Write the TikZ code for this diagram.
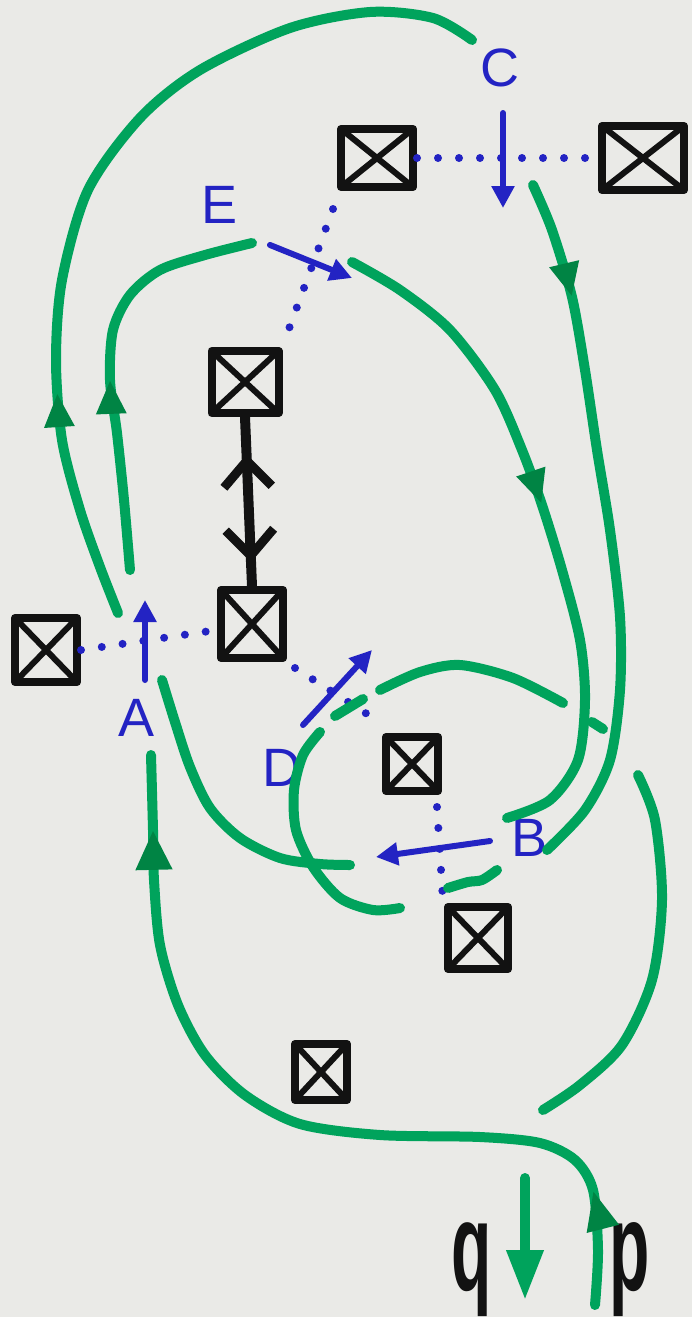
\documentclass[tikz,border=0pt]{standalone}
\usepackage{fontspec}
\setmainfont{Liberation Sans}
\usetikzlibrary{arrows.meta,decorations.markings,calc}
\definecolor{paper}{RGB}{234,234,231}
\definecolor{mgreen}{RGB}{0,163,92}
\definecolor{dgreen}{RGB}{0,132,68}
\definecolor{mblue}{RGB}{35,35,195}
\definecolor{ink}{RGB}{18,18,18}
\tikzset{
  xbox/.style={draw=ink, line width=8pt, inner sep=0pt, line join=round,
    path picture={\draw[ink, line width=6pt, line cap=round]
      (path picture bounding box.north west) -- (path picture bounding box.south east)
      (path picture bounding box.south west) -- (path picture bounding box.north east);}},
  gline/.style={draw=mgreen, line width=10pt, line cap=round, line join=round},
  garrow/.style={postaction={decorate, decoration={markings,
    mark=at position #1 with {\arrow[dgreen]{Triangle[length=34pt,width=28pt]}}}}},
  barrow/.style={draw=mblue, line width=6pt, line cap=round, -{Triangle[length=22pt,width=22pt]}},
  dots/.style={draw=mblue, line width=8pt, line cap=round, dash pattern=on 0pt off 21pt},
  lab/.style={text=mblue, font=\fontsize{54}{54}\selectfont, inner sep=0pt},
  letter/.style={text=ink, font=\fontsize{120}{120}\selectfont\bfseries, inner sep=0pt}
}
\begin{document}
\begin{tikzpicture}[x=1pt,y=-1pt]
\fill[paper] (0,0) rectangle (692,1317);
\useasboundingbox (0,0) rectangle (692,1317);

% boxes
\node[xbox, minimum width=72pt, minimum height=58pt] (b1) at (377,158) {};
\node[xbox, minimum width=82pt, minimum height=64pt] (b2) at (643,158) {};
\node[xbox, minimum width=67pt, minimum height=62pt] (b3) at (245,382) {};
\node[xbox, minimum width=62pt, minimum height=68pt] (b4) at (252,624) {};
\node[xbox, minimum width=62pt, minimum height=64pt] (b5) at (46,650) {};
\node[xbox, minimum width=52pt, minimum height=54pt] (b6) at (412,764) {};
\node[xbox, minimum width=60pt, minimum height=62pt] (b7) at (478,938) {};
\node[xbox, minimum width=52pt, minimum height=56pt] (b8) at (321,1072) {};

% labels
\node[lab] (lC) at (500,68) {C};
\node[lab] (lE) at (220,205) {E};
\node[lab] (lA) at (137,718) {A};
\node[lab] (lD) at (282,768) {D};
\node[lab] (lB) at (530,838) {B};
\node[letter, anchor=south] (lq) at (472,1317) {\scalebox{0.55}[1.05]{q}};
\node[letter, anchor=south] (lp) at (630,1317) {\scalebox{0.55}[1.05]{p}};

% dotted links
\draw[dots] (b1.east) -- (b2.west);
\draw[dots] ($(b1.south west)+(-4,18)$) -- ($(b3.north east)+(2,-6)$);
\draw[dots] (b5.east) -- ([yshift=-6pt]b4.west);
\draw[dots] ($(b4.south east)+(8,6)$) -- ($(b6.north west)+(-4,-12)$);
\draw[dots] ($(b6.south)+(25,12)$) -- ($(b7.north)+(-35,-2)$);

% black double arrow
\draw[ink, line width=10pt, line cap=round,
  postaction={decorate, decoration={markings,
    mark=at position 0.22 with {\arrowreversed[ink]{Straight Barb[length=26pt,width=48pt,line width=9pt]}},
    mark=at position 0.86 with {\arrow[ink]{Straight Barb[length=26pt,width=48pt,line width=9pt]}}}}]
  (b3.south) -- (b4.north);

% blue arrows
\coordinate (c1) at (503,113); \coordinate (c2) at (503,208);
\coordinate (e1) at (270,245); \coordinate (e2) at (352,278);
\coordinate (a1) at (145,680); \coordinate (a2) at (145,600);
\coordinate (d1) at (303,725); \coordinate (d2) at (372,650);
\coordinate (bb1) at (490,841); \coordinate (bb2) at (376,857);
\draw[barrow] (c1) -- (c2);
\draw[barrow] (e1) -- (e2);
\draw[barrow] (a1) -- (a2);
\draw[barrow] (d1) -- (d2);
\draw[barrow] (bb1) -- (bb2);

% green curves
\draw[gline, garrow=0.257] plot[smooth] coordinates {(118,613) (100,567) (80,510) (62,440) (56,360) (62,280) (88,190) (140,118) (200,70) (290,28) (370,12) (433,18) (472,40)};
\draw[gline, garrow=0.46] plot[smooth] coordinates {(130,570) (124,500) (117,433) (110,380) (113,330) (130,295) (160,270) (205,255) (252,243)};
\draw[gline, garrow=0.17] plot[smooth] coordinates {(533,185) (552,230) (572,297) (585,370) (597,450) (610,530) (620,617) (620,690) (610,760) (585,810) (547,850)};
\draw[gline, garrow=0.47] plot[smooth] coordinates {(352,262) (400,290) (450,330) (495,390) (522,450) (542,505) (562,570) (580,640) (585,700) (578,760) (550,800) (507,818)};
\draw[gline,
  postaction={decorate, decoration={markings,
    mark=at position 0.134 with {\arrow[dgreen]{Triangle[length=40pt,width=30pt]}},
    mark=at position 0.913 with {\arrow[dgreen]{Triangle[length=40pt,width=34pt]}}}}]
  plot[smooth] coordinates {(595,1305) (598,1250) (593,1190) (575,1160) (540,1143) (480,1137) (380,1135) (300,1124) (245,1095) (205,1055) (178,1005) (160,945) (154,880) (153,830) (151,755)};
\draw[gline] plot[smooth] coordinates {(162,680) (175,722) (190,767) (210,808) (240,838) (280,858) (320,864) (350,865)};
\draw[gline] plot[smooth] coordinates {(320,732) (303,755) (294,790) (296,830) (313,867) (340,898) (373,910) (400,908)};
\draw[gline] plot[smooth] coordinates {(380,690) (420,672) (460,665) (513,678) (563,703)};
\draw[gline] (335,716) -- (363,699);
\draw[gline] (592,722) -- (603,729);
\draw[gline] plot[smooth] coordinates {(638,775) (655,820) (662,900) (652,980) (622,1045) (580,1085) (543,1110)};
\draw[gline] plot[smooth] coordinates {(448,888) (468,882) (482,880) (497,870)};
\draw[gline, -{Triangle[length=50pt,width=35pt]}] (525,1178) -- (525,1300);
\end{tikzpicture}
\end{document}
